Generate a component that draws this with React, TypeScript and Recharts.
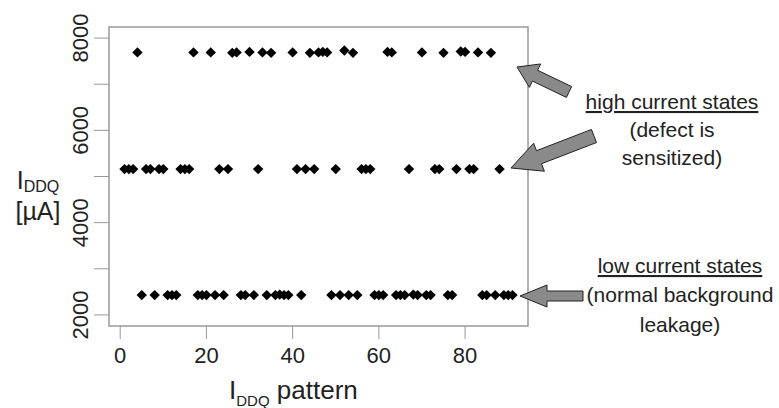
import React from 'react'
import { ReferenceArea, Scatter, ScatterChart, XAxis, YAxis } from 'recharts'

const font = '"Liberation Sans", Arial, sans-serif'

// pattern index -> measured IDDQ (uA), split by current state
const highPatterns = [4, 17, 21, 26, 27, 30, 33, 35, 40, 44, 46, 47, 48, 52, 54, 62, 63, 70, 75, 79, 80, 83, 86]
const highValues = [7690, 7690, 7690, 7680, 7690, 7700, 7690, 7680, 7690, 7680, 7690, 7700, 7690, 7730, 7680, 7700, 7690, 7690, 7680, 7710, 7700, 7690, 7680]

const midPatterns = [1, 2, 3, 6, 7, 9, 10, 14, 15, 16, 23, 25, 32, 41, 43, 45, 50, 56, 57, 58, 67, 73, 74, 78, 81, 82, 88]
const midValues = [5160, 5160, 5160, 5160, 5160, 5160, 5160, 5160, 5160, 5160, 5160, 5160, 5160, 5160, 5160, 5160, 5160, 5160, 5160, 5160, 5160, 5160, 5160, 5160, 5160, 5160, 5160]

const lowPatterns = [5, 8, 11, 12, 13, 18, 19, 20, 22, 24, 28, 29, 31, 34, 36, 37, 38, 39, 42, 49, 51, 53, 55, 59, 60, 61, 64, 65, 66, 68, 69, 71, 72, 76, 77, 84, 85, 87, 89, 90, 91]
const lowValues = [2430, 2430, 2430, 2430, 2430, 2430, 2430, 2430, 2430, 2430, 2430, 2430, 2430, 2430, 2430, 2440, 2430, 2430, 2430, 2430, 2430, 2430, 2430, 2430, 2430, 2430, 2430, 2430, 2430, 2440, 2430, 2430, 2430, 2430, 2430, 2430, 2430, 2430, 2430, 2430, 2430]

const xTicks = [0, 20, 40, 60, 80]
const yTicks = [2000, 3000, 4000, 5000, 6000, 7000, 8000]

const toPoints = (xs: number[], ys: number[]) => xs.map((x, i) => ({ x, y: ys[i] }))
const high = toPoints(highPatterns, highValues)
const mid = toPoints(midPatterns, midValues)
const low = toPoints(lowPatterns, lowValues)

// R style: 4% padding round the data / ylim
const xDomain = [-2.6, 94.6]
const yDomain = [1760, 8240]

const Diamond = (props: any) => {
    const { cx, cy } = props
    const r = 5.2
    return <polygon points={`${cx},${cy - r} ${cx + r},${cy} ${cx},${cy + r} ${cx - r},${cy}`} fill='#000' />
}

const YTick = (props: any) => {
    const { x, y, payload } = props
    const label = payload.value % 2000 === 0 ? String(payload.value) : ''
    const tx = x - 4
    return (
        <text x={tx} y={y} transform={`rotate(-90 ${tx} ${y})`} textAnchor='middle' fontSize={22} fontFamily={font} fill='#222'>
            {label}
        </text>
    )
}

type Pt = [number, number]
const arrowPoints = (tail: Pt, tip: Pt, shaft: number, head: number, headLen: number) => {
    const dx = tip[0] - tail[0]
    const dy = tip[1] - tail[1]
    const len = Math.hypot(dx, dy)
    const ux = dx / len, uy = dy / len
    const nx = -uy, ny = ux
    const bx = tip[0] - ux * headLen, by = tip[1] - uy * headLen
    const pts: Pt[] = [
        [tail[0] + nx * shaft, tail[1] + ny * shaft],
        [bx + nx * shaft, by + ny * shaft],
        [bx + nx * head, by + ny * head],
        tip,
        [bx - nx * head, by - ny * head],
        [bx - nx * shaft, by - ny * shaft],
        [tail[0] - nx * shaft, tail[1] - ny * shaft],
    ]
    return pts.map(p => p.join(',')).join(' ')
}

const noteStyle = { fontSize: 21, fontFamily: font, fill: '#222' }

const App = () => {
    return (
        <div style={{ position: 'absolute', left: 0, top: 0, width: 779, height: 408, background: '#fff' }}>
            <ScatterChart width={779} height={408} margin={{ top: 27, right: 251, bottom: 0, left: 0 }}>
                <XAxis type='number' dataKey='x' domain={xDomain} ticks={xTicks} interval={0} allowDataOverflow
                    axisLine={false} tickSize={13} tickMargin={8} height={82}
                    tickLine={{ stroke: '#999' }} tick={{ fill: '#222', fontSize: 22, fontFamily: font }} />
                <YAxis type='number' dataKey='y' domain={yDomain} ticks={yTicks} interval={0} allowDataOverflow
                    axisLine={false} tickSize={15} width={109}
                    tickLine={{ stroke: '#999' }} tick={<YTick />} />
                <ReferenceArea x1={xDomain[0]} x2={xDomain[1]} y1={yDomain[0]} y2={yDomain[1]}
                    fill='none' stroke='#999' strokeWidth={1.5} fillOpacity={0} />
                <Scatter data={high} shape={<Diamond />} isAnimationActive={false} />
                <Scatter data={mid} shape={<Diamond />} isAnimationActive={false} />
                <Scatter data={low} shape={<Diamond />} isAnimationActive={false} />
            </ScatterChart>
            <svg width={779} height={408} style={{ position: 'absolute', left: 0, top: 0, pointerEvents: 'none' }}>
                {/* axis titles */}
                <text x={38} y={189} textAnchor='middle' fontSize={25} fontFamily={font} fill='#222'>
                    I<tspan fontSize={16} dy={3}>DDQ</tspan>
                </text>
                <text x={38} y={220} textAnchor='middle' fontSize={25} fontFamily={font} fill='#222'>[µA]</text>
                <text x={229} y={399} fontSize={26} fontFamily={font} fill='#222'>
                    I<tspan fontSize={15} dy={7}>DDQ</tspan><tspan dy={-7}> pattern</tspan>
                </text>

                {/* arrows */}
                <polygon points={arrowPoints([569, 92], [517, 67], 6, 13, 20)} fill='#8a8a8a' stroke='#222' strokeWidth={1} />
                <polygon points={arrowPoints([594, 136], [511, 168], 7, 15, 30)} fill='#8a8a8a' stroke='#222' strokeWidth={1} />
                <polygon points={arrowPoints([583, 296], [520, 296], 5, 11, 27)} fill='#8a8a8a' stroke='#222' strokeWidth={1} />

                {/* notes */}
                <text x={672} y={109} textAnchor='middle' style={{ ...noteStyle, textDecoration: 'underline' }}>high current states</text>
                <text x={672} y={137} textAnchor='middle' style={noteStyle}>(defect is</text>
                <text x={672} y={165} textAnchor='middle' style={noteStyle}>sensitized)</text>
                <text x={680} y={273} textAnchor='middle' style={{ ...noteStyle, textDecoration: 'underline' }}>low current states</text>
                <text x={680} y={302} textAnchor='middle' style={noteStyle}>(normal background</text>
                <text x={680} y={332} textAnchor='middle' style={noteStyle}>leakage)</text>
            </svg>
        </div>
    )
}

export default App
